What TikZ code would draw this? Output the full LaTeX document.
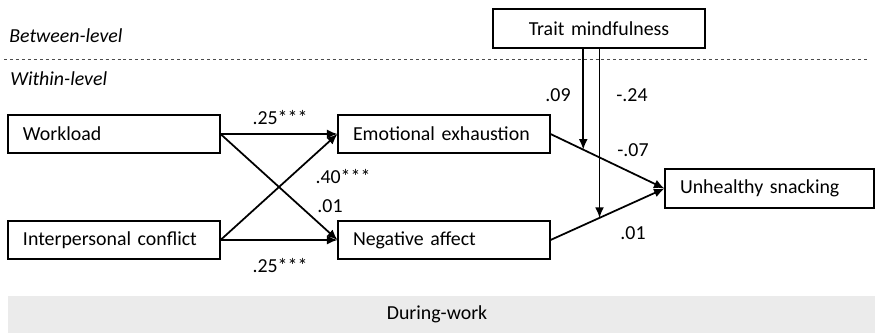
\documentclass[tikz,border=0pt]{standalone}
\usepackage{fontspec}
\setmainfont{Carlito}
\usetikzlibrary{arrows.meta}

\tikzset{
  var/.style={draw=black, line width=0.6pt, text width=3.64cm, inner xsep=0.3cm,
    minimum height=0.76cm, align=left},
  pfeil/.style={line width=1pt, -{Latex[length=2.1mm,width=1.8mm]}},
  koeff/.style={inner sep=1pt}
}

\begin{document}
\begin{tikzpicture}[font=\fontsize{11.3}{13.5}\selectfont]
\useasboundingbox (0,0) rectangle (17.5,6.66);

% Ebenen
\fill[color=black!8] (0.16,0) rectangle (17.5,0.74);
\node (during) at (8.74,0.37) {During-work};
\draw[dash pattern=on 1.7pt off 1.7pt, color=black!70, line width=0.5pt] (0.08,5.48) -- (17.4,5.48);
\node[anchor=west, inner sep=0pt] (between) at (0.18,5.94) {\itshape Between-level};
\node[anchor=west, inner sep=0pt] (within) at (0.2,5.08) {\itshape Within-level};

% Variablen
\node[var] (work) at (2.28,3.98) {Workload};
\node[var] (conf) at (2.28,1.86) {Interpersonal conflict};
\node[var] (emo) at (8.88,3.98) {Emotional exhaustion};
\node[var] (neg) at (8.88,1.86) {Negative affect};
\node[var, text width=3.58cm, minimum height=0.78cm] (snack) at (15.39,2.89) {Unhealthy snacking};
\node[var, align=center, minimum height=0.78cm] (trait) at (11.98,6.09) {Trait mindfulness};

% Pfade
\draw[pfeil] (work.east) -- (emo.west);
\draw[pfeil] (work.east) -- (neg.west);
\draw[pfeil] (conf.east) -- (emo.west);
\draw[pfeil] (conf.east) -- (neg.west);
\draw[pfeil] (emo.east) -- coordinate[pos=0.287] (m1) (snack.west);
\draw[pfeil] (neg.east) -- coordinate[pos=0.43] (m2) (snack.west);

% Moderation
\draw[pfeil] (m1 |- trait.south) -- (m1);
\draw[pfeil] (m2 |- trait.south) -- (m2);

% Koeffizienten
\node[koeff] (k1) at (5.60,4.30) {.25***};
\node[koeff] (k2) at (6.86,3.12) {.40***};
\node[koeff] (k3) at (6.60,2.54) {.01};
\node[koeff] (k4) at (5.60,1.34) {.25***};
\node[koeff] (k5) at (11.16,4.76) {.09};
\node[koeff] (k6) at (12.64,4.76) {-.24};
\node[koeff] (k7) at (12.66,3.66) {-.07};
\node[koeff] (k8) at (12.66,2.00) {.01};
%\draw[help lines] (0,0) grid (17.5,6.66);
\end{tikzpicture}
\end{document}
